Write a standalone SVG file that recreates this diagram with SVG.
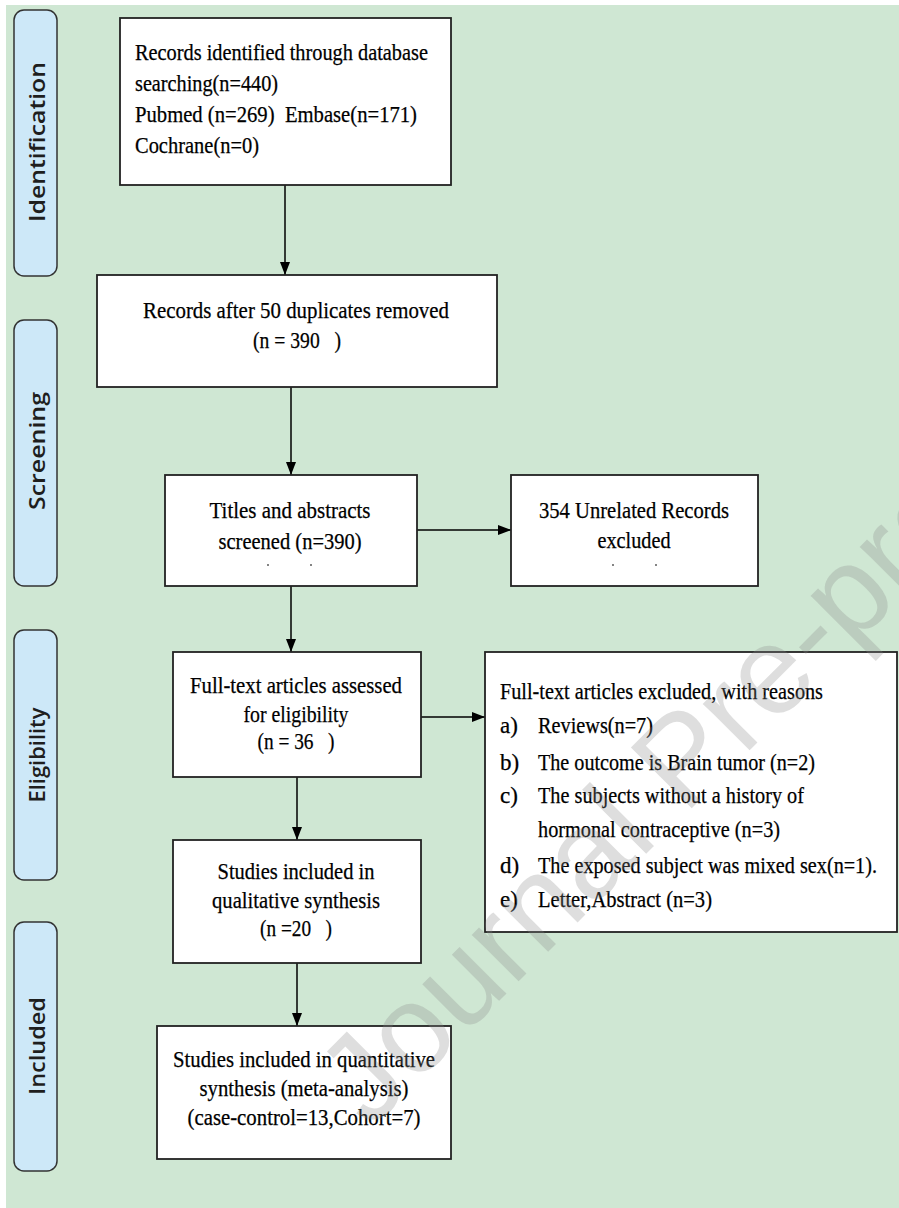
<svg xmlns="http://www.w3.org/2000/svg" width="899" height="1208" viewBox="0 0 899 1208">
<style>
.bg{fill:#cfe7d3}
.box{fill:#ffffff;stroke:#222222;stroke-width:1.8}
.side{fill:#cde8f8;stroke:#333333;stroke-width:1.5}
.t{font-family:"Liberation Serif","Times New Roman",serif;font-size:23px;fill:#000000;stroke:#000000;stroke-width:0.25;white-space:pre}
.c{text-anchor:middle}
.s{font-family:"Open Sans","Liberation Sans",sans-serif;font-size:21px;font-weight:600;fill:#1e1e1e;text-anchor:middle}
.ln{stroke:#000000;stroke-width:1.5;fill:none}
.wm{font-family:"Liberation Sans",Arial,sans-serif;font-size:125px;fill:#888888;fill-opacity:0.28}
.dot{stroke:#333;stroke-width:1.2}
</style>
<defs>
<marker id="ah" viewBox="0 0 13 10" refX="13" refY="5" markerWidth="13" markerHeight="10" markerUnits="userSpaceOnUse" orient="auto">
<path d="M0,0 L13,5 L0,10 Z" fill="#000000"/>
</marker>
</defs>
<rect x="0" y="0" width="899" height="1208" fill="#ffffff"/>
<rect class="bg" x="6" y="5" width="893" height="1203"/>
<g id="side-identification">
<rect class="side" x="14" y="10" width="43" height="266" rx="10"/>
<text class="s" transform="translate(45 142) rotate(-90)" textLength="160" lengthAdjust="spacingAndGlyphs">Identification</text>
</g>
<g id="side-screening">
<rect class="side" x="14" y="320" width="43" height="266" rx="10"/>
<text class="s" transform="translate(45 451) rotate(-90)" textLength="118" lengthAdjust="spacingAndGlyphs">Screening</text>
</g>
<g id="side-eligibility">
<rect class="side" x="14" y="630" width="43" height="250" rx="10"/>
<text class="s" transform="translate(45 755) rotate(-90)" textLength="95" lengthAdjust="spacingAndGlyphs">Eligibility</text>
</g>
<g id="side-included">
<rect class="side" x="14" y="922" width="43" height="249" rx="10"/>
<text class="s" transform="translate(45 1046) rotate(-90)" textLength="98" lengthAdjust="spacingAndGlyphs">Included</text>
</g>
<g id="connectors">
<line class="ln" x1="285" y1="185" x2="285" y2="275" marker-end="url(#ah)"/>
<line class="ln" x1="291" y1="387" x2="291" y2="475" marker-end="url(#ah)"/>
<line class="ln" x1="417" y1="530" x2="511" y2="530" marker-end="url(#ah)"/>
<line class="ln" x1="291" y1="586" x2="291" y2="652" marker-end="url(#ah)"/>
<line class="ln" x1="421" y1="717" x2="485" y2="717" marker-end="url(#ah)"/>
<line class="ln" x1="297" y1="777" x2="297" y2="840" marker-end="url(#ah)"/>
<line class="ln" x1="297" y1="963" x2="297" y2="1026" marker-end="url(#ah)"/>
</g>
<g id="node-identified">
<rect class="box" x="120" y="18" width="331" height="167"/>
<text class="t" x="135" y="60" textLength="293" lengthAdjust="spacingAndGlyphs">Records identified through database</text>
<text class="t" x="135" y="91" textLength="143" lengthAdjust="spacingAndGlyphs">searching(n=440)</text>
<text class="t" x="135" y="122" textLength="282" lengthAdjust="spacingAndGlyphs">Pubmed (n=269)  Embase(n=171)</text>
<text class="t" x="135" y="153" textLength="124" lengthAdjust="spacingAndGlyphs">Cochrane(n=0)</text>
</g>
<g id="node-duplicates">
<rect class="box" x="97" y="275" width="400" height="112"/>
<text class="t c" x="296" y="318" textLength="306" lengthAdjust="spacingAndGlyphs">Records after 50 duplicates removed</text>
<text class="t c" x="297" y="348" textLength="88" lengthAdjust="spacingAndGlyphs">(n = 390   )</text>
</g>
<g id="node-screened">
<rect class="box" x="165" y="475" width="252" height="111"/>
<text class="t c" x="290" y="518" textLength="161" lengthAdjust="spacingAndGlyphs">Titles and abstracts</text>
<text class="t c" x="290" y="549" textLength="143" lengthAdjust="spacingAndGlyphs">screened (n=390)</text>
<line class="dot" x1="268" y1="564" x2="268" y2="566"/>
<line class="dot" x1="311" y1="564" x2="311" y2="566"/>
</g>
<g id="node-unrelated">
<rect class="box" x="511" y="475" width="247" height="111"/>
<text class="t c" x="634" y="518" textLength="190" lengthAdjust="spacingAndGlyphs">354 Unrelated Records</text>
<text class="t c" x="634" y="548" textLength="73" lengthAdjust="spacingAndGlyphs">excluded</text>
<line class="dot" x1="613" y1="564" x2="613" y2="566"/>
<line class="dot" x1="656" y1="564" x2="656" y2="566"/>
</g>
<g id="node-fulltext">
<rect class="box" x="173" y="652" width="248" height="125"/>
<text class="t c" x="296" y="693" textLength="212" lengthAdjust="spacingAndGlyphs">Full-text articles assessed</text>
<text class="t c" x="296" y="722" textLength="105" lengthAdjust="spacingAndGlyphs">for eligibility</text>
<text class="t c" x="296" y="749" textLength="77" lengthAdjust="spacingAndGlyphs">(n = 36   )</text>
</g>
<g id="node-excluded-reasons">
<rect class="box" x="485" y="652" width="412" height="280"/>
<text class="t" x="500" y="699" textLength="323" lengthAdjust="spacingAndGlyphs">Full-text articles excluded, with reasons</text>
<text class="t" x="500" y="733">a)</text>
<text class="t" x="538" y="733" textLength="115" lengthAdjust="spacingAndGlyphs">Reviews(n=7)</text>
<text class="t" x="500" y="770">b)</text>
<text class="t" x="538" y="770" textLength="277" lengthAdjust="spacingAndGlyphs">The outcome is Brain tumor (n=2)</text>
<text class="t" x="500" y="803">c)</text>
<text class="t" x="538" y="803" textLength="266" lengthAdjust="spacingAndGlyphs">The subjects without a history of</text>
<text class="t" x="538" y="837" textLength="242" lengthAdjust="spacingAndGlyphs">hormonal contraceptive (n=3)</text>
<text class="t" x="500" y="873">d)</text>
<text class="t" x="538" y="873" textLength="339" lengthAdjust="spacingAndGlyphs">The exposed subject was mixed sex(n=1).</text>
<text class="t" x="500" y="907">e)</text>
<text class="t" x="538" y="907" textLength="174" lengthAdjust="spacingAndGlyphs">Letter,Abstract (n=3)</text>
</g>
<g id="node-qualitative">
<rect class="box" x="173" y="840" width="248" height="123"/>
<text class="t c" x="296" y="879" textLength="157" lengthAdjust="spacingAndGlyphs">Studies included in</text>
<text class="t c" x="296" y="908" textLength="168" lengthAdjust="spacingAndGlyphs">qualitative synthesis</text>
<text class="t c" x="296" y="936" textLength="72" lengthAdjust="spacingAndGlyphs">(n =20   )</text>
</g>
<g id="node-quantitative">
<rect class="box" x="157" y="1026" width="294" height="133"/>
<text class="t c" x="304" y="1067" textLength="262" lengthAdjust="spacingAndGlyphs">Studies included in quantitative</text>
<text class="t c" x="304" y="1096" textLength="209" lengthAdjust="spacingAndGlyphs">synthesis (meta-analysis)</text>
<text class="t c" x="304" y="1125" textLength="233" lengthAdjust="spacingAndGlyphs">(case-control=13,Cohort=7)</text>
</g>
<g id="watermark">
<text class="wm" transform="translate(370 1130) rotate(-45)">Journal Pre-proof</text>
</g>
</svg>
